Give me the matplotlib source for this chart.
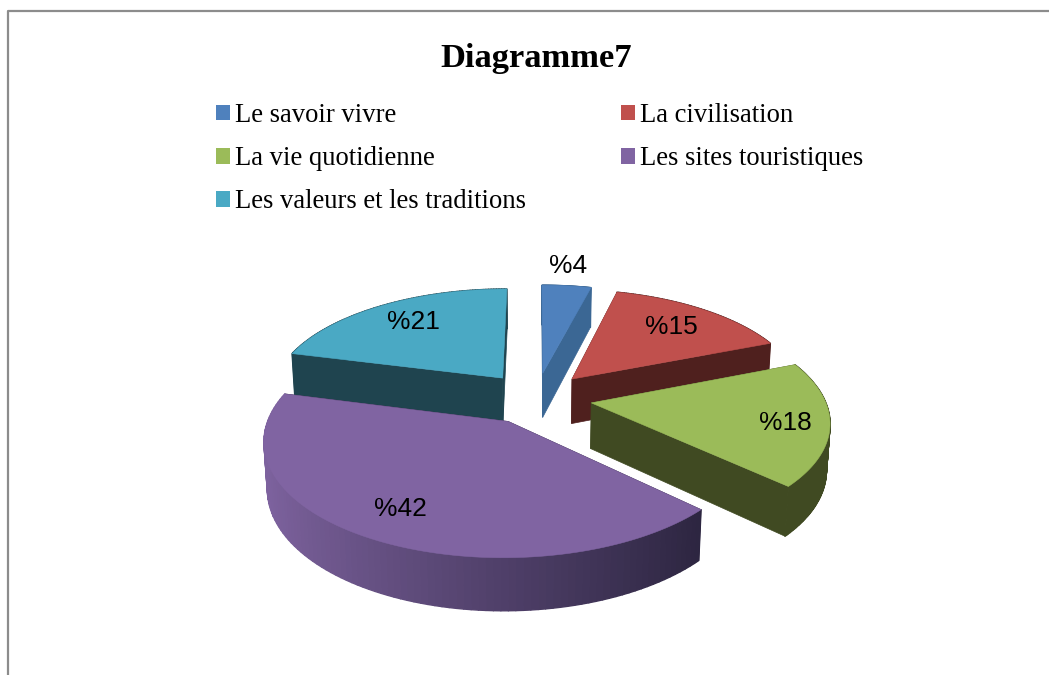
"""Diagramme7: exploded perspective pie, drawn as projected polygons."""

import numpy as np
import matplotlib
matplotlib.use("Agg")
import matplotlib.pyplot as plt
from matplotlib.collections import PolyCollection
from matplotlib.lines import Line2D
from matplotlib.patches import Patch, Polygon

categories = ["Le savoir vivre", "La civilisation", "La vie quotidienne",
              "Les sites touristiques", "Les valeurs et les traditions"]
values = [4, 15, 18, 42, 21]
labels = ["%4", "%15", "%18", "%42", "%21"]

top_colors = ["#4f81bd", "#c0504d", "#9bbb59", "#8064a2", "#4aa9c4"]
wall_colors = ["#3b6794", "#4f201e", "#404a22", "#2f2742", "#1f444f"]
arc_light = ["#3b6794", "#4f201e", "#404a22", "#7d629e", "#1f444f"]
arc_dark = ["#3b6794", "#4f201e", "#404a22", "#2c2540", "#1f444f"]
label_xy = [(568, 266), (671, 327), (785, 423), (400, 509), (413, 322)]
draw_order = [4, 0, 1, 2, 3]

# projection constants, in picture pixels
CX, CY = 536, 398
BX, AY = 233, 108
PERSP, PERSP_Z = 0.15, 0.012
DEPTH = 46
EXPLODE = 0.24


def project(x, y, z=0.0):
    w = 1 + PERSP * y + PERSP_Z * z
    return np.column_stack([CX + BX * x / w, CY - AY * y / w + DEPTH * z / w])


fig = plt.figure(figsize=(10.49, 6.75), dpi=100)
ax = fig.add_axes([0, 0, 1, 1])
ax.set_xlim(0, 1049)
ax.set_ylim(675, 0)
ax.axis("off")

ax.add_line(Line2D([8, 8, 1049], [675, 11, 11], color="#8c8c8c", lw=1.6))

edges = np.concatenate([[0], np.cumsum(values)]) / sum(values) * 2 * np.pi
for i in draw_order:
    a0, a1 = edges[i], edges[i + 1]
    mid = (a0 + a1) / 2
    ox, oy = EXPLODE * np.sin(mid), EXPLODE * np.cos(mid)
    th = np.linspace(a0, a1, 100)
    ax_, ay_ = ox + np.sin(th), oy + np.cos(th)

    # flat cut faces first, the top hides whatever is turned away
    for a in (a0, a1):
        xs = np.array([ox, ox + np.sin(a)])
        ys = np.array([oy, oy + np.cos(a)])
        quad = np.vstack([project(xs, ys), project(xs, ys, 1)[::-1]])
        ax.add_patch(Polygon(quad, fc=wall_colors[i], ec=wall_colors[i], lw=0.5))

    # outer wall, shaded from left to right
    upper, lower = project(ax_, ay_), project(ax_, ay_, 1)
    quads = [np.vstack([upper[j:j + 2], lower[j:j + 2][::-1]]) for j in range(len(th) - 1)]
    c0 = np.array(matplotlib.colors.to_rgb(arc_light[i]))
    c1 = np.array(matplotlib.colors.to_rgb(arc_dark[i]))
    t = np.clip((np.sin(th[:-1]) + 0.95) / 1.7, 0, 1)[:, None]
    cols = c0 + (c1 - c0) * t
    ax.add_collection(PolyCollection(quads, facecolors=cols, edgecolors=cols, linewidths=1.0))

    top = np.vstack([project(np.array([ox]), np.array([oy])), upper])
    ax.add_patch(Polygon(top, fc=top_colors[i], ec=top_colors[i], lw=0.4))

for txt, (lx, ly) in zip(labels, label_xy):
    ax.text(lx, ly, txt, fontsize=19, family="Liberation Sans", color="black",
            ha="center", va="center")

ax.text(536, 58, "Diagramme7", fontsize=24.8, family="Liberation Serif", weight="bold",
        ha="center", va="center")

# legend fills column by column
order = [0, 2, 4, 1, 3]
handles = [Patch(fc=top_colors[i], ec="none", label=categories[i]) for i in order]
ax.legend(handles=handles, loc="upper left", bbox_to_anchor=(216 / 1049, 1 - 103 / 675),
          ncol=2, frameon=False, borderpad=0, borderaxespad=0,
          prop={"family": "Liberation Serif", "size": 19.2},
          handlelength=0.53, handleheight=0.53, handletextpad=0.19,
          labelspacing=0.68, columnspacing=3.55)

fig.savefig("out.png", dpi=100)
